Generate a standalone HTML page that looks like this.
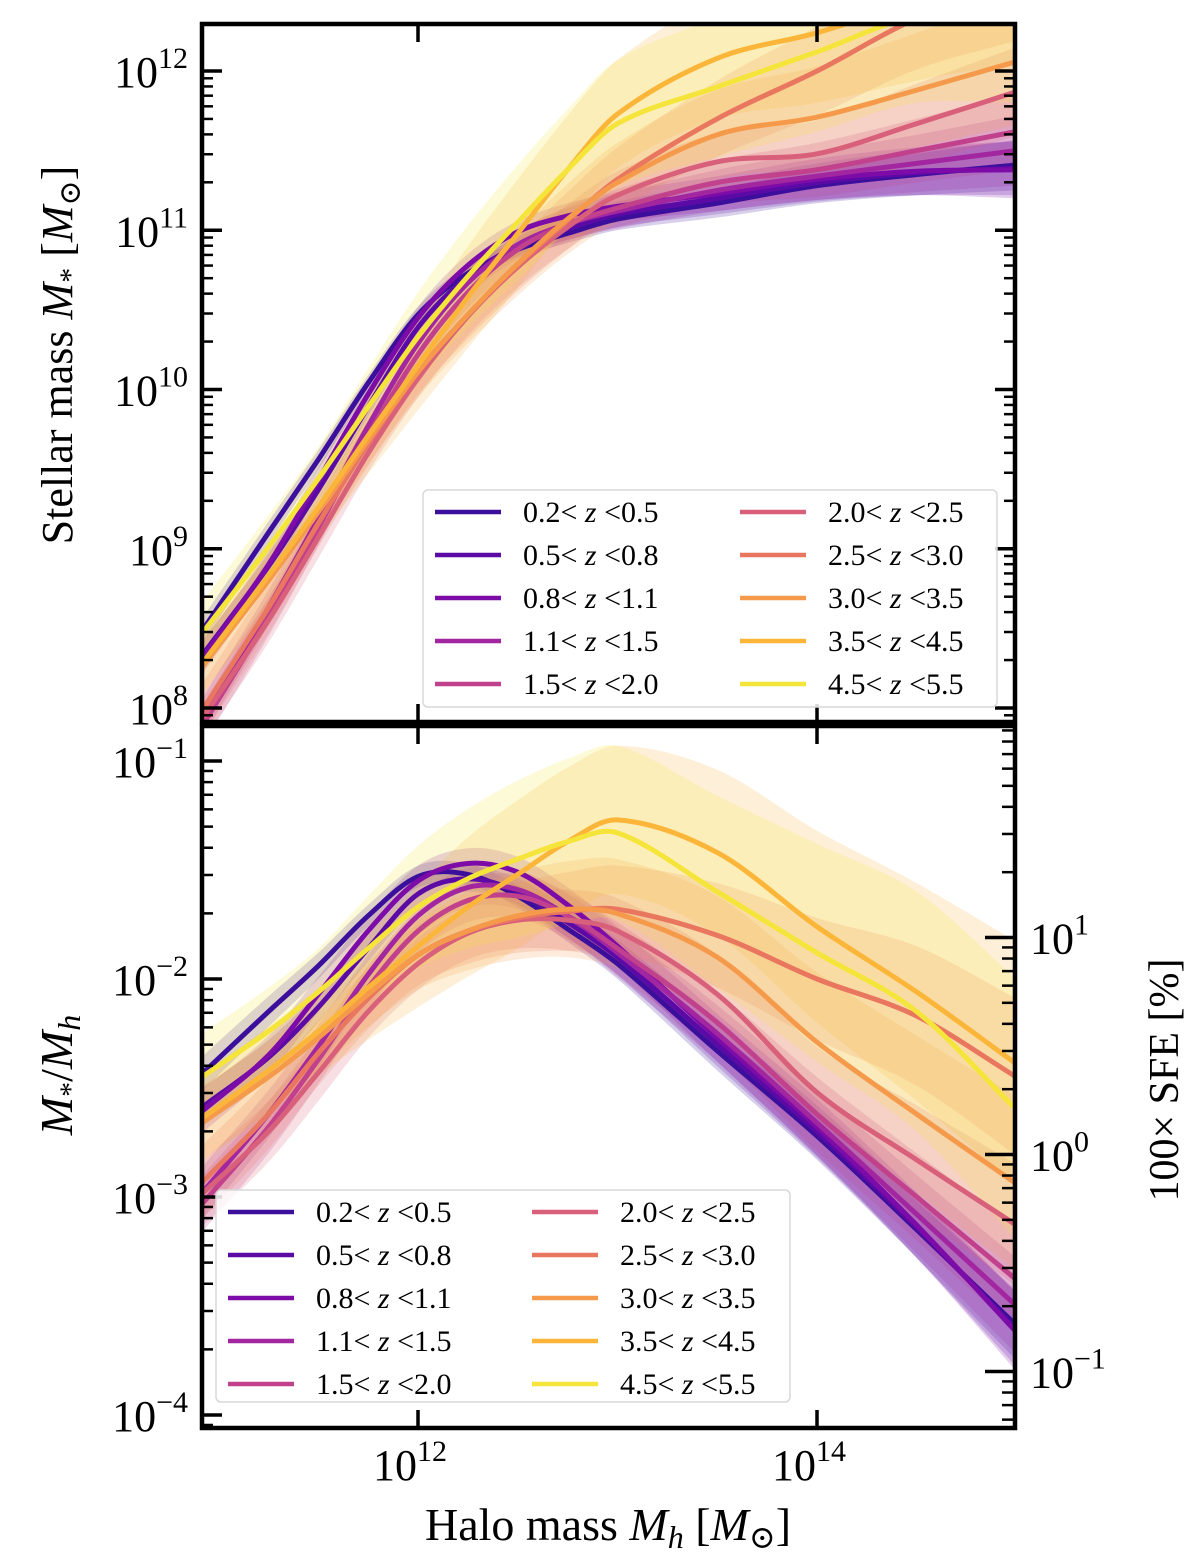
<!DOCTYPE html>
<html><head><meta charset="utf-8">
<style>
body{margin:0;background:#fff}
svg{display:block;font-family:"Liberation Serif","DejaVu Serif",serif}
</style></head>
<body>
<svg id="fig" width="1200" height="1554" viewBox="0 0 1200 1554">
<defs>
<clipPath id="clipTop"><rect x="202" y="24" width="813" height="698"/></clipPath>
<clipPath id="clipBot"><rect x="202" y="726" width="813" height="702"/></clipPath>
</defs>
<g id="bandsTop" clip-path="url(#clipTop)"></g>
<g id="linesTop" clip-path="url(#clipTop)"></g>
<g id="bandsBot" clip-path="url(#clipBot)"></g>
<g id="linesBot" clip-path="url(#clipBot)"></g>
<g id="axes"></g>
<g id="legends"></g>
<text transform="translate(72,355) rotate(-90)" text-anchor="middle" font-size="44">Stellar mass <tspan font-style="italic">M</tspan><tspan font-size="30" dy="8">*</tspan><tspan dy="-8"> [</tspan><tspan font-style="italic">M</tspan><tspan font-size="30" dy="8">⊙</tspan><tspan dy="-8">]</tspan></text>
<text transform="translate(72,1075) rotate(-90)" text-anchor="middle" font-size="46"><tspan font-style="italic">M</tspan><tspan font-size="30" dy="8">*</tspan><tspan dy="-8">/</tspan><tspan font-style="italic">M</tspan><tspan font-size="32" font-style="italic" dy="8">h</tspan></text>
<text transform="translate(1178,1080) rotate(-90)" text-anchor="middle" font-size="42">100× SFE [%]</text>
<text x="608" y="1540" text-anchor="middle" font-size="46">Halo mass <tspan font-style="italic">M</tspan><tspan font-size="32" font-style="italic" dy="8">h</tspan><tspan dy="-8"> [</tspan><tspan font-style="italic">M</tspan><tspan font-size="32" dy="8">⊙</tspan><tspan dy="-8">]</tspan></text>
</svg>
<script>
const NS='http://www.w3.org/2000/svg';
// data
const logMh=[10.9,11.25,11.5,11.75,12.0,12.25,12.5,12.75,13.0,13.5,14.0,14.5,15.0];
const zLabels=[['0.2','0.5'],['0.5','0.8'],['0.8','1.1'],['1.1','1.5'],['1.5','2.0'],['2.0','2.5'],['2.5','3.0'],['3.0','3.5'],['3.5','4.5'],['4.5','5.5']];
const colors=['#3b0f9c','#5b0aa5','#7d0ba8','#a2269f','#c1418c','#d9607a','#e97760','#f59a4a','#fbb63a','#f5e43a'];
const r0=[-2.45,-2.15,-1.94,-1.71,-1.53,-1.52,-1.62,-1.77,-1.93,-2.33,-2.72,-3.15,-3.59];
const r1=[-2.60,-2.36,-2.13,-1.86,-1.61,-1.54,-1.60,-1.74,-1.90,-2.30,-2.70,-3.14,-3.61];
const r2=[-2.62,-2.35,-2.07,-1.78,-1.55,-1.47,-1.51,-1.66,-1.85,-2.27,-2.68,-3.13,-3.62];
const r3=[-3.00,-2.62,-2.31,-1.98,-1.71,-1.58,-1.59,-1.71,-1.88,-2.25,-2.66,-3.08,-3.50];
const r4=[-3.05,-2.68,-2.37,-2.04,-1.78,-1.64,-1.62,-1.71,-1.86,-2.20,-2.62,-3.00,-3.38];
const r5=[-3.00,-2.70,-2.43,-2.15,-1.93,-1.79,-1.73,-1.73,-1.78,-2.07,-2.52,-2.83,-3.13];
const r6=[-2.95,-2.62,-2.34,-2.09,-1.89,-1.78,-1.72,-1.69,-1.68,-1.80,-2.00,-2.17,-2.45];
const r7=[-2.67,-2.45,-2.27,-2.07,-1.89,-1.78,-1.71,-1.68,-1.70,-1.90,-2.29,-2.62,-2.94];
const r8=[-2.65,-2.42,-2.24,-2.04,-1.85,-1.67,-1.52,-1.37,-1.27,-1.42,-1.76,-2.06,-2.39];
const r9=[-2.46,-2.24,-2.06,-1.86,-1.67,-1.54,-1.45,-1.37,-1.33,-1.60,-1.88,-2.15,-2.60];
const ratios=[r0,r1,r2,r3,r4,r5,r6,r7,r8,r9];
const e0=[0.08,0.07,0.06,0.05,0.05,0.05,0.05,0.06,0.07,0.09,0.11,0.13,0.16];
const e1=[0.09,0.08,0.07,0.06,0.06,0.06,0.06,0.07,0.08,0.10,0.12,0.14,0.17];
const e2=[0.10,0.09,0.08,0.07,0.07,0.07,0.07,0.08,0.09,0.11,0.13,0.15,0.18];
const e3=[0.12,0.11,0.10,0.09,0.09,0.09,0.09,0.10,0.11,0.13,0.15,0.18,0.22];
const e4=[0.13,0.12,0.11,0.10,0.10,0.10,0.10,0.11,0.12,0.14,0.17,0.20,0.24];
const e5=[0.15,0.14,0.13,0.12,0.12,0.12,0.13,0.14,0.15,0.18,0.21,0.25,0.28];
const e6=[0.17,0.16,0.15,0.14,0.14,0.15,0.16,0.18,0.20,0.24,0.28,0.32,0.36];
const e7=[0.17,0.16,0.15,0.15,0.16,0.18,0.20,0.22,0.25,0.28,0.32,0.36,0.40];
const e8=[0.20,0.20,0.20,0.24,0.28,0.32,0.34,0.34,0.34,0.38,0.44,0.50,0.56];
const e9=[0.20,0.20,0.20,0.24,0.28,0.32,0.36,0.38,0.40,0.44,0.50,0.55,0.60];
const errs=[e0,e1,e2,e3,e4,e5,e6,e7,e8,e9];
const topTickLabels=['8','9','10','11','12'];
const botTickLabels=['−4','−3','−2','−1'];
const sfeTickLabels=['−1','0','1'];
const xTickLabels=['12','14'];

// axis functions
const X=l=>418+(l-12)*199.5;
const YT=l=>71+(12-l)*159.25;
const YB=l=>761+(-1-l)*218;
const YS=l=>937.5+(1-l)*217;

function tangents(pts){
  const n=pts.length,m=[];
  for(let i=0;i<n;i++){
    const a=pts[Math.max(0,i-1)],b=pts[Math.min(n-1,i+1)];
    m.push((b[1]-a[1])/(b[0]-a[0]));
  }
  return m;
}
function segsFwd(pts){
  const m=tangents(pts);let d='';
  for(let i=0;i<pts.length-1;i++){
    const p1=pts[i],p2=pts[i+1],dx=(p2[0]-p1[0])/3;
    d+='C'+(p1[0]+dx).toFixed(1)+','+(p1[1]+m[i]*dx).toFixed(1)+' '+(p2[0]-dx).toFixed(1)+','+(p2[1]-m[i+1]*dx).toFixed(1)+' '+p2[0].toFixed(1)+','+p2[1].toFixed(1);
  }
  return d;
}
function segsRev(pts){
  const m=tangents(pts);let d='';
  for(let i=pts.length-1;i>0;i--){
    const p1=pts[i],p2=pts[i-1],dx=(p2[0]-p1[0])/3;
    d+='C'+(p1[0]+dx).toFixed(1)+','+(p1[1]+m[i]*dx).toFixed(1)+' '+(p2[0]-dx).toFixed(1)+','+(p2[1]-m[i-1]*dx).toFixed(1)+' '+p2[0].toFixed(1)+','+p2[1].toFixed(1);
  }
  return d;
}
function cr(pts){return 'M'+pts[0][0].toFixed(1)+','+pts[0][1].toFixed(1)+segsFwd(pts);}
function band(up,lo){
  const n=lo.length;
  return cr(up)+'L'+lo[n-1][0].toFixed(1)+','+lo[n-1][1].toFixed(1)+segsRev(lo)+'Z';
}
function el(tag,attrs,parent){const e=document.createElementNS(NS,tag);for(const k in attrs)e.setAttribute(k,attrs[k]);parent.appendChild(e);return e;}

const gBT=document.getElementById('bandsTop'),gLT=document.getElementById('linesTop');
const gBB=document.getElementById('bandsBot'),gLB=document.getElementById('linesBot');
ratios.forEach((r,s)=>{
  const e=errs[s];
  const up=logMh.map((m,i)=>[X(m),YB(r[i]+e[i])]);
  const lo=logMh.map((m,i)=>[X(m),YB(r[i]-e[i])]);
  let b=el('path',{d:band(up,lo),fill:colors[s],'fill-opacity':0.2,stroke:'none'},gBB);
  
  
  let l=el('path',{d:cr(logMh.map((m,i)=>[X(m),YB(r[i])])),fill:'none',stroke:colors[s],'stroke-width':5},gLB);
  
  
  const upT=logMh.map((m,i)=>[X(m),YT(r[i]+e[i]+m)]);
  const loT=logMh.map((m,i)=>[X(m),YT(r[i]-e[i]+m)]);
  let bt=el('path',{d:band(upT,loT),fill:colors[s],'fill-opacity':0.2,stroke:'none'},gBT);
  
  
  let lt=el('path',{d:cr(logMh.map((m,i)=>[X(m),YT(r[i]+m)])),fill:'none',stroke:colors[s],'stroke-width':5},gLT);
  
  
});

// axes
const gA=document.getElementById('axes');
function tickLabel(x,y,exp,anchor,name){
  const t=el('text',{x:x,y:y,'text-anchor':anchor,'font-size':44},gA);
  
  
  t.innerHTML='10<tspan font-size="30" dy="-19">'+exp+'</tspan>';
}
for(let d=7;d<=12;d++){
  for(let k=1;k<=9;k++){
    const l=d+Math.log10(k); const y=YT(l);
    if(y<24||y>722)continue;
    const len=k===1?20:11,w=k===1?3.5:2.5;
    el('line',{x1:202,x2:202+len,y1:y,y2:y,stroke:'#000','stroke-width':w},gA);
    el('line',{x1:1015,x2:1015-len,y1:y,y2:y,stroke:'#000','stroke-width':w},gA);
  }
}
topTickLabels.forEach(s=>{tickLabel(188,YT(+s)+16,s,'end','top-y-tick-label');});
for(let d=-5;d<=-1;d++){
  for(let k=1;k<=9;k++){
    const l=d+Math.log10(k); const y=YB(l);
    if(y<726||y>1428)continue;
    const len=k===1?20:11,w=k===1?3.5:2.5;
    el('line',{x1:202,x2:202+len,y1:y,y2:y,stroke:'#000','stroke-width':w},gA);
  }
}
botTickLabels.forEach(s=>{tickLabel(188,YB(parseFloat(s.replace('−','-')))+16,s,'end','bottom-y-tick-label');});
for(let d=-2;d<=1;d++){
  for(let k=1;k<=9;k++){
    const l=d+Math.log10(k); const y=YS(l);
    if(y<726||y>1428)continue;
    const len=k===1?30:13,w=k===1?3.5:2.5;
    el('line',{x1:1015,x2:1015-len,y1:y,y2:y,stroke:'#000','stroke-width':w},gA);
  }
}
sfeTickLabels.forEach(s=>{tickLabel(1030,YS(parseFloat(s.replace('−','-')))+16,s,'start','sfe-tick-label');});
xTickLabels.forEach(s=>{
  const x=X(+s);
  [[24,1],[722,-1],[726,1],[1428,-1]].forEach(([y,dir])=>{
    el('line',{x1:x,x2:x,y1:y,y2:y+dir*18,stroke:'#000','stroke-width':3.5},gA);
  });
  tickLabel(x-8,1480,s,'middle','x-tick-label');
});
let sp=el('rect',{x:202,y:24,width:813,height:698,fill:'none',stroke:'#000','stroke-width':4.5},gA);


let sp2=el('rect',{x:202,y:726,width:813,height:702,fill:'none',stroke:'#000','stroke-width':4.5},gA);



// legends
const gL=document.getElementById('legends');
function legend(bx,by,bw,bh,col2dx,name){
  const g=el('g',{},gL);
  
  
  el('rect',{x:bx,y:by,width:bw,height:bh,rx:5,fill:'#fff','fill-opacity':0.85,stroke:'#d8d8d8','stroke-width':1.5},g);
  zLabels.forEach((z,i)=>{
    const col=Math.floor(i/5),row=i%5;
    const x0=bx+12+col*col2dx,y=by+22+row*43;
    const ln=el('line',{x1:x0,x2:x0+66,y1:y,y2:y,stroke:colors[i],'stroke-width':4.5},g);
    
    
    const t=el('text',{x:x0+88,y:y+10,'font-size':30},g);
    
    
    t.innerHTML=z[0]+'&lt;  <tspan font-style="italic">z</tspan>  &lt;'+z[1];
    t.setAttribute('xml:space','preserve');
  });
}
legend(423,490,574,217,305,'top-legend');
legend(216,1190,574,212,304,'bottom-legend');
</script>
</body></html>
